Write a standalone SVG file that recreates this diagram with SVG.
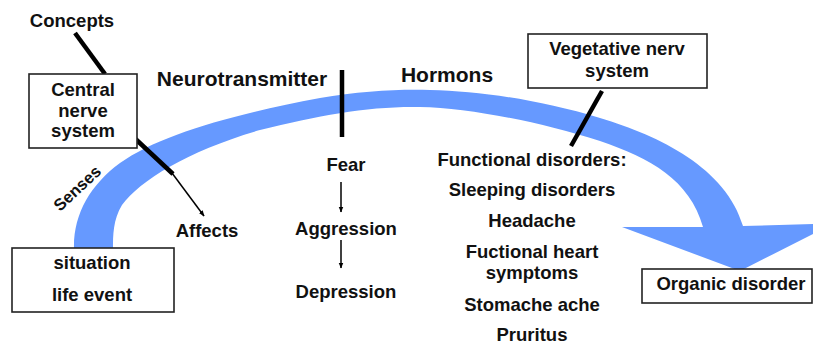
<svg xmlns="http://www.w3.org/2000/svg" width="813" height="347" viewBox="0 0 813 347">
<defs>
<style>
text{font-family:"Liberation Sans",Arial,sans-serif;font-weight:bold;font-size:18.5px;fill:#111;text-anchor:middle}
.big{font-size:21px}
.box{fill:#fff;stroke:#222;stroke-width:1.6}
.thick{stroke:#000;stroke-width:4.5;stroke-linecap:butt;fill:none}
.thin{stroke:#000;stroke-width:1.5;fill:none}
.flow{fill:#6699ff}
</style>
<marker id="ah" viewBox="0 0 10 10" refX="9" refY="5" markerWidth="6" markerHeight="6" orient="auto" markerUnits="userSpaceOnUse">
<path d="M0,1 L10,5 L0,9 Z" fill="#000"/>
</marker>
</defs>
<rect width="813" height="347" fill="#fff"/>
<g id="flow-arc">
<path class="flow" d="M74,249 C73,215 90,185 120,163 C160,135 230,115 320,98 C360,91 400,89 430,90 C480,91 540,100 600,118 C660,136 726,168 743,226 L813,224 L813,234 L740,271 L622,227 L703,227 C690,180 650,158 600,141 C540,122 470,108 420,107 C370,106 320,115 260,130 C190,150 140,180 122,205 C113,220 113,235 113,249 Z"/>
</g>
<g id="connectors">
<line class="thick" x1="75" y1="33" x2="105" y2="74"/>
<line class="thick" x1="128" y1="132" x2="173" y2="174"/>
<line class="thin" x1="172" y1="173" x2="204" y2="216" marker-end="url(#ah)"/>
<line class="thick" x1="342" y1="70" x2="342" y2="137"/>
<line class="thick" x1="602" y1="91" x2="571" y2="146"/>
<line class="thin" x1="341" y1="182" x2="341" y2="212" marker-end="url(#ah)"/>
<line class="thin" x1="341" y1="240" x2="341" y2="268" marker-end="url(#ah)"/>
</g>
<g id="concepts"><text x="72" y="27">Concepts</text></g>
<g id="central-nerve-system">
<rect class="box" x="29" y="74" width="108" height="74"/>
<text x="83" y="96">Central</text>
<text x="83" y="117">nerve</text>
<text x="83" y="137">system</text>
</g>
<g id="senses"><text transform="translate(77,188) rotate(-43)" x="0" y="6" style="font-size:16.5px">Senses</text></g>
<g id="affects"><text x="207" y="237">Affects</text></g>
<g id="situation">
<rect class="box" x="12" y="248" width="162" height="64"/>
<text x="92" y="269">situation</text>
<text x="92" y="301">life event</text>
</g>
<g id="neurotransmitter"><text class="big" x="242" y="86">Neurotransmitter</text></g>
<g id="hormons"><text class="big" x="447" y="82">Hormons</text></g>
<g id="fear"><text x="346" y="171">Fear</text></g>
<g id="aggression"><text x="346" y="235">Aggression</text></g>
<g id="depression"><text x="346" y="298">Depression</text></g>
<g id="vegetative-nerv-system">
<rect class="box" x="528" y="34" width="179" height="54"/>
<text x="617" y="55">Vegetative nerv</text>
<text x="617" y="77">system</text>
</g>
<g id="functional-disorders">
<text x="532" y="166">Functional disorders:</text>
<text x="532" y="196">Sleeping disorders</text>
<text x="532" y="227">Headache</text>
<text x="532" y="258">Fuctional heart</text>
<text x="532" y="279">symptoms</text>
<text x="532" y="311">Stomache ache</text>
<text x="532" y="341">Pruritus</text>
</g>
<g id="organic-disorder">
<rect class="box" x="642" y="269" width="170" height="34"/>
<text x="731" y="290">Organic disorder</text>
</g>
</svg>
